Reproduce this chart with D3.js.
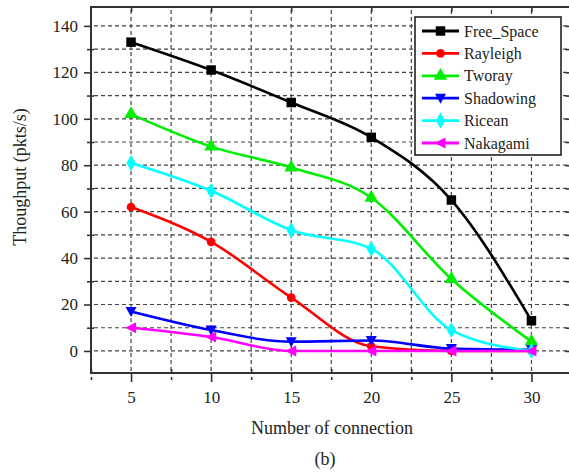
<!DOCTYPE html>
<html>
<head>
<meta charset="utf-8">
<script src="https://cdn.jsdelivr.net/npm/d3@7"></script>
<style>
  html, body { margin: 0; padding: 0; background: #fff; }
  svg { display: block; }
  text { font-family: "Liberation Serif", "Times New Roman", Times, serif; fill: #222; }
</style>
</head>
<body>
<svg id="chart" width="569" height="474"></svg>
<script>
// ---- data ----
const connections = [5, 10, 15, 20, 25, 30];
const freeSpace = [133, 121, 107, 92, 65, 13];
const rayleigh  = [62, 47, 23, 2, 0, 0];
const tworay    = [102, 88, 79, 66, 31, 4];
const shadowing = [17, 9, 4, 4.5, 1, 0.5];
const ricean    = [81, 69, 52, 44, 9, 0];
const nakagami  = [10, 6, 0, 0, 0, 0];
const seriesNames  = ["Free_Space", "Rayleigh", "Tworay", "Shadowing", "Ricean", "Nakagami"];
const seriesColors = ["#000000", "#ff0000", "#00ee00", "#0000ff", "#00ffff", "#ff00ff"];
const seriesValues = [freeSpace, rayleigh, tworay, shadowing, ricean, nakagami];
const xTicks = [5, 10, 15, 20, 25, 30];
const xMinorTicks = [2.5, 7.5, 12.5, 17.5, 22.5, 27.5, 32.5];
const yTicks = [0, 20, 40, 60, 80, 100, 120, 140];
const yMinorTicks = [10, 30, 50, 70, 90, 110, 130];
const xLabel = "Number of connection";
const yLabel = "Thoughput (pkts/s)";
const caption = "(b)";

// ---- layout ----
const svg = d3.select("#chart");
const L = 91, R = 571.5, T = 7, B = 373;
const x = d3.scaleLinear().domain([2.5, 32.5]).range([L, R]);
const y = d3.scaleLinear().domain([-9.5, 147.5]).range([B, T + 1.5]);

// grid
const grid = svg.append("g").attr("stroke", "#444").attr("stroke-width", 1.2)
  .attr("stroke-dasharray", "4,3");
xTicks.concat(xMinorTicks).forEach(v => {
  grid.append("line").attr("x1", x(v)).attr("x2", x(v)).attr("y1", B - 2).attr("y2", T + 2);
});
yTicks.concat(yMinorTicks).forEach(v => {
  grid.append("line").attr("y1", y(v)).attr("y2", y(v)).attr("x1", L + 3).attr("x2", R);
});

// frame
const frame = svg.append("g").attr("stroke", "#333").attr("stroke-width", 2).attr("fill", "none");
frame.append("line").attr("x1", L).attr("x2", L).attr("y1", T).attr("y2", B + 1);
frame.append("line").attr("x1", L - 1).attr("x2", R).attr("y1", B).attr("y2", B);
frame.append("line").attr("x1", L - 1).attr("x2", R).attr("y1", T).attr("y2", T);
frame.append("line").attr("x1", R).attr("x2", R).attr("y1", T).attr("y2", B);

// axes via d3 axis generators
const tickStyle = g => { g.select(".domain").remove(); g.selectAll("line").attr("stroke", "#333").attr("stroke-width", 1.6); };
const textStyle = g => g.selectAll("text").attr("font-size", 17).attr("fill", "#222")
  .style("font-family", "'Liberation Serif', 'Times New Roman', serif");
svg.append("g").attr("transform", `translate(0,${B})`)
  .call(d3.axisBottom(x).tickValues(xTicks).tickSize(9).tickPadding(9).tickFormat(d3.format("d")))
  .call(tickStyle).call(textStyle);
svg.append("g").attr("transform", `translate(0,${B + 4})`)
  .call(d3.axisBottom(x).tickValues(xMinorTicks).tickSize(3).tickFormat(""))
  .call(tickStyle);
svg.append("g").attr("transform", `translate(0,${B - 4})`)
  .call(d3.axisBottom(x).tickValues(xMinorTicks).tickSize(4).tickFormat(""))
  .call(tickStyle);
svg.append("g").attr("transform", `translate(${L},0)`)
  .call(d3.axisLeft(y).tickValues(yTicks).tickSize(7).tickPadding(6).tickFormat(d3.format("d")))
  .call(tickStyle).call(textStyle);
svg.append("g").attr("transform", `translate(${L + 3},0)`)
  .call(d3.axisLeft(y).tickValues(yMinorTicks).tickSize(7).tickFormat(""))
  .call(tickStyle);
// mirrored ticks on top and right
svg.append("g").attr("transform", `translate(0,${T})`)
  .call(d3.axisBottom(x).tickValues(xTicks).tickSize(5).tickFormat(""))
  .call(tickStyle);
svg.append("g").attr("transform", `translate(${R},0)`)
  .call(d3.axisLeft(y).tickValues(yTicks.concat(yMinorTicks)).tickSize(6).tickFormat(""))
  .call(tickStyle);

// titles
svg.append("text").attr("x", 332).attr("y", 434).attr("text-anchor", "middle")
  .attr("font-size", 18).text(xLabel);
svg.append("text").attr("transform", "translate(22,177) rotate(-90)")
  .attr("text-anchor", "middle").attr("dominant-baseline", "middle")
  .attr("font-size", 18).attr("fill", "#2a1a2a").text(yLabel);
svg.append("text").attr("x", 325).attr("y", 465).attr("text-anchor", "middle")
  .attr("font-size", 18).text(caption);

// markers
const markerPaths = [
  d3.symbol(d3.symbolSquare, 90)(),
  d3.symbol(d3.symbolCircle, 60)(),
  d3.symbol(d3.symbolTriangle, 80)(),
  "M-5.5,-4.5L5.5,-4.5L0,5.5Z",
  d3.symbol(d3.symbolDiamond, 75)(),
  "M-6,0L5,-5.5L5,5.5Z"
];

const line = d3.line().x(d => x(d[0])).y(d => y(d[1])).curve(d3.curveMonotoneX);
const plot = svg.append("g");
seriesValues.forEach((vals, i) => {
  const pts = connections.map((c, j) => [c, vals[j]]);
  plot.append("path").attr("d", line(pts)).attr("fill", "none")
    .attr("stroke", seriesColors[i]).attr("stroke-width", 2.6);
  plot.selectAll(null).data(pts).enter().append("path")
    .attr("d", markerPaths[i])
    .attr("transform", d => `translate(${x(d[0])},${y(d[1])})`)
    .attr("fill", seriesColors[i]);
});

// legend
const lg = svg.append("g");
lg.append("rect").attr("x", 415).attr("y", 17).attr("width", 146).attr("height", 138)
  .attr("fill", "#fff").attr("stroke", "#222").attr("stroke-width", 1.6);
seriesNames.forEach((name, i) => {
  const yy = 31 + i * 22.4;
  lg.append("line").attr("x1", 422).attr("x2", 459).attr("y1", yy).attr("y2", yy)
    .attr("stroke", seriesColors[i]).attr("stroke-width", 2.8);
  lg.append("path").attr("d", markerPaths[i]).attr("transform", `translate(440.5,${yy})`)
    .attr("fill", seriesColors[i]);
  lg.append("text").attr("x", 464).attr("y", yy).attr("dominant-baseline", "central")
    .attr("font-size", 16).text(name);
});
</script>
</body>
</html>
